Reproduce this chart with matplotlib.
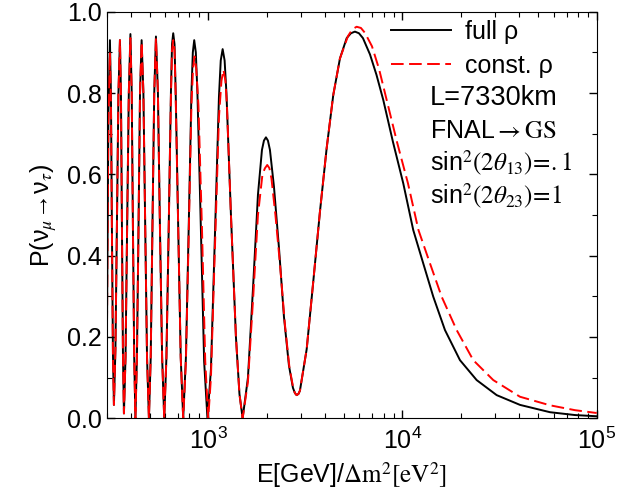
import numpy as np
import matplotlib
matplotlib.use("Agg")
import matplotlib.pyplot as plt

plt.rcParams['font.family'] = ['Liberation Sans', 'DejaVu Sans']
plt.rcParams['mathtext.fontset'] = 'stix'
plt.rcParams['font.size'] = 18

# full density profile: E[GeV]/dm^2[eV^2] and P(numu -> nutau)
E_full = [300, 302.7, 306.3, 311.8, 315.5, 319.2, 323.1, 326.9,
          332.8, 338.8, 344.9, 351.1, 355.3, 359.5, 363.8, 368.1,
          375.1, 382.3, 390.0, 397.5, 403.7, 409.5, 415.8, 421.8,
          429.4, 437.6, 445.4, 454.0, 463.7, 473.8, 484.0, 495.0,
          505.7, 516.1, 527.2, 538.0, 550.8, 564.1, 578.9, 593.5,
          609.2, 626.0, 642.5, 651.0, 660.3, 670.6, 680.0, 700.5, 721.6, 743.3,
          767.5, 793.4, 819.3, 833.1, 847.0, 863.2, 879.8, 916.1, 952.6, 990.6,
          1032.5, 1082.7, 1135.3, 1159.9, 1186.3, 1214.4, 1240.9, 1309.0, 1388.8,
          1447.8, 1503.5,
          1601.3, 1705.0, 1803.0, 1890.6, 1935.7, 1982.3, 2029.5, 2078.6, 2179.6,
          2312.5, 2453.7, 2603.2, 2729.5, 2795.3, 2852.0, 2914.2,
          2966.0, 3213.0, 3473.4, 3759.7, 4071.0, 4403.0, 4766.2, 5161.7, 5430,
          5693.5, 5970, 6260.4, 6804.4, 7346.8, 7965.6, 8933.1, 10095, 11365,
          12795, 14412, 16555, 19776, 24103, 30556, 40286, 57478, 77304, 100000]
P_full = [0.10, 0.40, 0.75, 0.93, 0.80, 0.47, 0.16, 0.033,
          0.17, 0.48, 0.80, 0.93, 0.80, 0.47, 0.16, 0.012,
          0.15, 0.47, 0.80, 0.945, 0.80, 0.47, 0.15, 0.0,
          0.15, 0.47, 0.80, 0.93, 0.80, 0.47, 0.15, 0.0,
          0.15, 0.47, 0.80, 0.939, 0.80, 0.47, 0.15, 0.0,
          0.15, 0.47, 0.80, 0.92, 0.947, 0.92, 0.80, 0.47, 0.15, 0.0,
          0.15, 0.47, 0.80, 0.90, 0.93, 0.90, 0.80, 0.47, 0.14, 0.0,
          0.12, 0.45, 0.79, 0.88, 0.908, 0.88, 0.80, 0.50, 0.20,
          0.06, 0.0,
          0.10, 0.33, 0.55, 0.66, 0.683, 0.691, 0.683, 0.66, 0.57,
          0.42, 0.25, 0.13, 0.075, 0.062, 0.057, 0.06,
          0.068, 0.17, 0.336, 0.508, 0.664, 0.795, 0.885, 0.935, 0.947,
          0.951, 0.947, 0.935, 0.895, 0.845, 0.783, 0.68, 0.578, 0.463,
          0.381, 0.299, 0.217, 0.143, 0.094, 0.057, 0.033, 0.015, 0.008, 0.005]

# constant density approximation
E_const = [300, 302.7, 306.3, 311.8, 315.5, 319.2, 323.1, 326.9,
           332.8, 338.8, 344.9, 351.1, 355.3, 359.5, 363.8, 368.1,
           375.1, 382.3, 390.0, 397.5, 403.7, 409.5, 415.8, 421.8,
           429.4, 437.6, 445.4, 454.0, 463.7, 473.8, 484.0, 495.0,
           505.7, 516.1, 527.2, 538.0, 550.8, 564.1, 578.9, 593.5,
           609.2, 626.0, 642.5, 651.0, 660.3, 670.6, 680.0, 700.5, 721.6, 743.3,
           767.5, 793.4, 819.3, 835.0, 850.2, 867.4, 890.3, 928.0, 965.1, 1000,
           1032.5, 1082.7, 1135.3, 1169.5, 1197.6, 1226.2, 1248.4, 1309.0, 1388.8,
           1447.8, 1503.5,
           1601.3, 1705.0, 1803.0, 1901.9, 1958.8, 2013.1, 2065.9, 2115.8, 2218.2,
           2339.9, 2482.7, 2618.8, 2745.9, 2795.3, 2852.0, 2914.2,
           2966.0, 3213.0, 3473.4, 3759.7, 4071.0, 4403.0, 4766.2, 5242.0, 5527,
           5810.1, 6112, 6410.6, 6966.3, 7568, 8293.3, 9368.0, 10674, 12088,
           13859, 15919, 19017, 23150, 29351, 40286, 57478, 77304, 100000]
P_const = [0.10, 0.40, 0.73, 0.90, 0.78, 0.46, 0.16, 0.033,
           0.17, 0.48, 0.80, 0.93, 0.80, 0.47, 0.16, 0.012,
           0.15, 0.47, 0.80, 0.935, 0.80, 0.47, 0.15, 0.0,
           0.15, 0.47, 0.80, 0.925, 0.80, 0.47, 0.15, 0.0,
           0.15, 0.47, 0.80, 0.935, 0.80, 0.47, 0.15, 0.0,
           0.15, 0.47, 0.79, 0.905, 0.93, 0.905, 0.79, 0.47, 0.15, 0.0,
           0.14, 0.45, 0.77, 0.86, 0.89, 0.86, 0.77, 0.47, 0.14, 0.0,
           0.10, 0.42, 0.74, 0.83, 0.857, 0.83, 0.77, 0.50, 0.20,
           0.06, 0.0,
           0.09, 0.30, 0.50, 0.60, 0.615, 0.623, 0.615, 0.59, 0.50,
           0.38, 0.23, 0.125, 0.072, 0.062, 0.057, 0.06,
           0.068, 0.17, 0.336, 0.508, 0.664, 0.795, 0.885, 0.94, 0.957,
           0.963, 0.96, 0.948, 0.915, 0.86, 0.783, 0.68, 0.578, 0.463,
           0.381, 0.299, 0.217, 0.143, 0.094, 0.053, 0.032, 0.02, 0.013]

fig = plt.figure(figsize=(6.29, 5.0), dpi=100)
ax = fig.add_axes([0.1696, 0.1634, 0.779, 0.8132])

ax.plot(E_full, P_full, color='black', lw=1.4, label='full ρ')
ax.plot(E_const, P_const, color='red', lw=1.4, dashes=(6.5, 2.8), label='const. ρ')

ax.set_xscale('log')
ax.set_xlim(300, 1e5)
ax.set_ylim(0, 1)
ax.set_yticks(np.arange(0, 1.01, 0.2))
ax.set_yticks(np.arange(0.1, 1.0, 0.2), minor=True)
ax.set_yticklabels(['0.0', '0.2', '0.4', '0.6', '0.8', '1.0'])
ax.tick_params(which='both', direction='in', top=True, right=True)
ax.tick_params(which='major', length=6, width=1)
ax.tick_params(which='minor', length=3.5, width=0.8)
ax.tick_params(axis='x', which='major', pad=7)

ax.set_xlabel('E[GeV]/' + r'$\Delta\mathrm{m}^2[\mathrm{eV}^2]$', labelpad=4)
ax.set_ylabel(r'P(ν$_\mu$→ν$_\tau$)', labelpad=6)

ax.legend(loc='upper left', bbox_to_anchor=(0.54, 1.03), frameon=False,
          handlelength=2.4, handletextpad=0.55, labelspacing=0.42, borderpad=0.3)

txt_x = 0.66
ax.text(txt_x, 0.788, 'L=7330km', transform=ax.transAxes, va='center', fontsize=19.5)
ax.text(txt_x, 0.707, 'FNAL' + r'$\rightarrow\mathrm{GS}$', transform=ax.transAxes, va='center')
ax.text(txt_x, 0.626, 'sin' + r'$^2(2\theta_{13})\!=\!.1$', transform=ax.transAxes, va='center')
ax.text(txt_x, 0.545, 'sin' + r'$^2(2\theta_{23})\!=\!1$', transform=ax.transAxes, va='center')

fig.savefig('out.png', dpi=100)
